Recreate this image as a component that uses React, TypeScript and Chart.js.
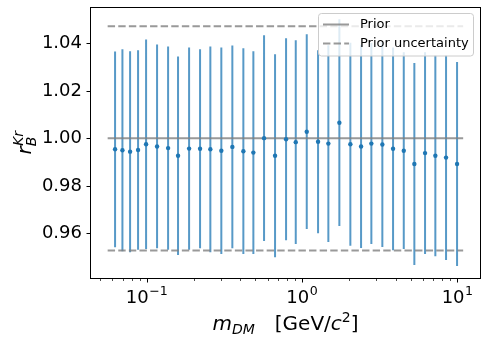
import React, { useEffect, useRef } from 'react';
import { Chart, registerables } from 'chart.js';

Chart.register(...registerables);

// ---- data ----
const massValues = [0.0625, 0.0697, 0.0781, 0.0879, 0.099, 0.1165, 0.1372, 0.159, 0.1873, 0.2204, 0.2567, 0.3021, 0.3557, 0.4188, 0.4858, 0.5692, 0.67, 0.7889, 0.9108, 1.0721, 1.2678, 1.4768, 1.7387, 2.0464, 2.3988, 2.7941, 3.2885, 3.8548, 4.518, 5.2856, 6.1944, 7.2161, 8.4573, 9.957];
const ratioValues = [0.9954, 0.995, 0.9944, 0.9951, 0.9975, 0.9966, 0.9959, 0.9927, 0.9957, 0.9956, 0.9954, 0.9948, 0.9964, 0.9946, 0.994, 1.0001, 0.9927, 0.9996, 0.9984, 1.0028, 0.9986, 0.9978, 1.0066, 0.9975, 0.9966, 0.9978, 0.9974, 0.9956, 0.9948, 0.9892, 0.9938, 0.9927, 0.9919, 0.9892];
const ratioErrors = [0.0412, 0.0425, 0.0423, 0.042, 0.0441, 0.0429, 0.0428, 0.0418, 0.0426, 0.0419, 0.0433, 0.0435, 0.0427, 0.0433, 0.0427, 0.0433, 0.0427, 0.0425, 0.0429, 0.041, 0.0385, 0.0414, 0.0435, 0.0427, 0.0428, 0.0423, 0.0431, 0.0427, 0.0414, 0.0425, 0.0425, 0.0423, 0.0431, 0.0429];

const priorValue = 1.0;
const priorSigma = 0.0472;
const priorSpan = [0.056, 10.9];

const xRange = [0.0431, 14.2];
const yRange = [0.9408, 1.0553];
const yTickValues = [0.96, 0.98, 1.0, 1.02, 1.04];
const xMajorTicks = [0.1, 1, 10];
const xMajorExponents = ['\u22121', '0', '1'];
const xMinorTicks = [0.05, 0.06, 0.07, 0.08, 0.09, 0.2, 0.3, 0.4, 0.5, 0.6, 0.7, 0.8, 0.9, 2, 3, 4, 5, 6, 7, 8, 9];
const legendLabels = ['Prior', 'Prior uncertainty'];

const FONT = '"DejaVu Sans"';
const GREY = 'rgba(128,128,128,0.8)';

function drawParts(ctx: CanvasRenderingContext2D, parts: any[], cx: number, baseline: number) {
  let total = 0;
  for (const p of parts) {
    if (p.gap) { total += p.gap; continue; }
    ctx.font = p.font;
    total += ctx.measureText(p.t).width;
  }
  let x = cx - total / 2;
  for (const p of parts) {
    if (p.gap) { x += p.gap; continue; }
    ctx.font = p.font;
    ctx.fillText(p.t, x, baseline + (p.dy || 0));
    x += ctx.measureText(p.t).width;
  }
}

const decorPlugin = {
  id: 'decor',
  afterDraw(chart: any) {
    const ctx: CanvasRenderingContext2D = chart.ctx;
    const ca = chart.chartArea;
    const xs = chart.scales.x;
    const ys = chart.scales.y;
    ctx.save();
    ctx.strokeStyle = '#000';
    ctx.fillStyle = '#000';
    ctx.lineWidth = 1;
    // spines
    ctx.strokeRect(Math.round(ca.left) + 0.5, Math.round(ca.top) + 0.5, Math.round(ca.right) - Math.round(ca.left) - 1, Math.round(ca.bottom) - Math.round(ca.top) - 1);
    // y ticks
    for (const v of yTickValues) {
      const py = Math.round(ys.getPixelForValue(v)) + 0.5;
      ctx.beginPath();
      ctx.moveTo(ca.left - 3.5, py);
      ctx.lineTo(ca.left, py);
      ctx.stroke();
    }
    // x ticks
    const bottom = Math.round(ca.bottom);
    for (const v of xMajorTicks) {
      const px = Math.round(xs.getPixelForValue(v)) + 0.5;
      ctx.beginPath();
      ctx.moveTo(px, bottom);
      ctx.lineTo(px, bottom + 3.5);
      ctx.stroke();
    }
    ctx.lineWidth = 0.7;
    for (const v of xMinorTicks) {
      const px = Math.round(xs.getPixelForValue(v)) + 0.5;
      ctx.beginPath();
      ctx.moveTo(px, bottom);
      ctx.lineTo(px, bottom + 2);
      ctx.stroke();
    }
    // x tick labels
    ctx.textBaseline = 'alphabetic';
    ctx.textAlign = 'left';
    xMajorTicks.forEach((v, i) => {
      const px = xs.getPixelForValue(v);
      drawParts(ctx, [
        { t: '10', font: `18px ${FONT}` },
        { gap: 0.5 },
        { t: xMajorExponents[i], font: `12.6px ${FONT}`, dy: -8 },
      ], px, 303);
    });
    // x title
    drawParts(ctx, [
      { t: 'm', font: `italic 20px ${FONT}` },
      { t: 'DM', font: `italic 14px ${FONT}`, dy: 3.5 },
      { gap: 20 },
      { t: '[GeV/', font: `20px ${FONT}` },
      { t: 'c', font: `italic 20px ${FONT}` },
      { t: '2', font: `14px ${FONT}`, dy: -8 },
      { t: ']', font: `20px ${FONT}` },
    ], (ca.left + ca.right) / 2, 330);
    // y title (rotated)
    ctx.save();
    ctx.translate(31, (ca.top + ca.bottom) / 2);
    ctx.rotate(-Math.PI / 2);
    ctx.font = `italic 20px ${FONT}`;
    const wr = ctx.measureText('r').width;
    ctx.font = `italic 14px ${FONT}`;
    const wB = ctx.measureText('B').width;
    const wK = ctx.measureText('Kr').width;
    const tot = wr + Math.max(wB, wK);
    const x0 = -tot / 2;
    ctx.font = `italic 20px ${FONT}`;
    ctx.fillText('r', x0, 0);
    ctx.font = `italic 14px ${FONT}`;
    ctx.fillText('B', x0 + wr, 4.5);
    ctx.fillText('Kr', x0 + wr + 0.5, -8.5);
    ctx.restore();
    // legend
    const lx = 318.5, ly = 13.5, lw = 155, lh = 42.5;
    ctx.beginPath();
    ctx.roundRect(lx, ly, lw, lh, 3);
    ctx.fillStyle = 'rgba(255,255,255,0.8)';
    ctx.fill();
    ctx.strokeStyle = '#cccccc';
    ctx.lineWidth = 1;
    ctx.stroke();
    const rows = [24.5, 43.5];
    ctx.lineWidth = 2;
    ctx.strokeStyle = GREY;
    rows.forEach((ry, i) => {
      ctx.setLineDash(i === 1 ? [7.4, 3.2] : []);
      ctx.beginPath();
      ctx.moveTo(323, ry);
      ctx.lineTo(349, ry);
      ctx.stroke();
    });
    ctx.setLineDash([]);
    ctx.fillStyle = '#000';
    ctx.font = `13px ${FONT}`;
    ctx.textBaseline = 'middle';
    rows.forEach((ry, i) => ctx.fillText(legendLabels[i], 360, ry));
    ctx.restore();
  },
};

export default function App() {
  const ref = useRef<HTMLCanvasElement>(null);
  useEffect(() => {
    if (!ref.current) return;
    const barData: any[] = [];
    massValues.forEach((m, i) => {
      barData.push({ x: m, y: ratioValues[i] - ratioErrors[i] });
      barData.push({ x: m, y: ratioValues[i] + ratioErrors[i] });
      barData.push({ x: m, y: null });
    });
    const points = massValues.map((m, i) => ({ x: m, y: ratioValues[i] }));
    const hline = (y: number) => [{ x: priorSpan[0], y }, { x: priorSpan[1], y }];
    const chart = new Chart(ref.current, {
      type: 'line',
      data: {
        datasets: [
          {
            type: 'scatter' as any,
            label: 'data',
            data: points,
            pointRadius: 2.2,
            pointBackgroundColor: '#1f77b4',
            pointBorderWidth: 0,
            showLine: false,
            order: 0,
          },
          {
            label: 'Prior',
            data: hline(priorValue),
            borderColor: GREY,
            borderWidth: 2,
            pointRadius: 0,
            order: 1,
          },
          {
            label: 'Prior uncertainty',
            data: hline(priorValue + priorSigma),
            borderColor: GREY,
            borderWidth: 2,
            borderDash: [7.4, 3.2],
            pointRadius: 0,
            order: 1,
          },
          {
            label: 'Prior uncertainty low',
            data: hline(priorValue - priorSigma),
            borderColor: GREY,
            borderWidth: 2,
            borderDash: [7.4, 3.2],
            pointRadius: 0,
            order: 1,
          },
          {
            label: 'errors',
            data: barData,
            borderColor: 'rgba(31,119,180,0.75)',
            borderWidth: 2,
            pointRadius: 0,
            spanGaps: false,
            borderCapStyle: 'butt',
            order: 2,
          },
        ],
      },
      options: {
        animation: false,
        responsive: false,
        layout: { padding: { top: 7, right: 7, left: 0, bottom: 0 } },
        plugins: { legend: { display: false }, tooltip: { enabled: false } },
        scales: {
          x: {
            type: 'logarithmic',
            min: xRange[0],
            max: xRange[1],
            grid: { display: false, drawTicks: false },
            border: { display: false },
            ticks: { display: false },
            afterFit: (s: any) => { s.height = 65; s.paddingLeft = 0; s.paddingRight = 0; },
          },
          y: {
            type: 'linear',
            min: yRange[0],
            max: yRange[1],
            grid: { display: false, drawTicks: false },
            border: { display: false },
            afterBuildTicks: (s: any) => { s.ticks = yTickValues.map((v) => ({ value: v })); },
            ticks: {
              padding: 8,
              color: '#000',
              font: { family: 'DejaVu Sans', size: 18 },
              callback: (v: any) => Number(v).toFixed(2),
            },
            afterFit: (s: any) => { s.width = 90; s.paddingTop = 0; s.paddingBottom = 0; },
          },
        },
      },
      plugins: [decorPlugin],
    } as any);
    return () => chart.destroy();
  }, []);
  return (
    <div style={{ position: 'fixed', left: 0, top: 0, width: 488, height: 344, background: '#fff' }}>
      <canvas ref={ref} width={488} height={344} />
    </div>
  );
}
